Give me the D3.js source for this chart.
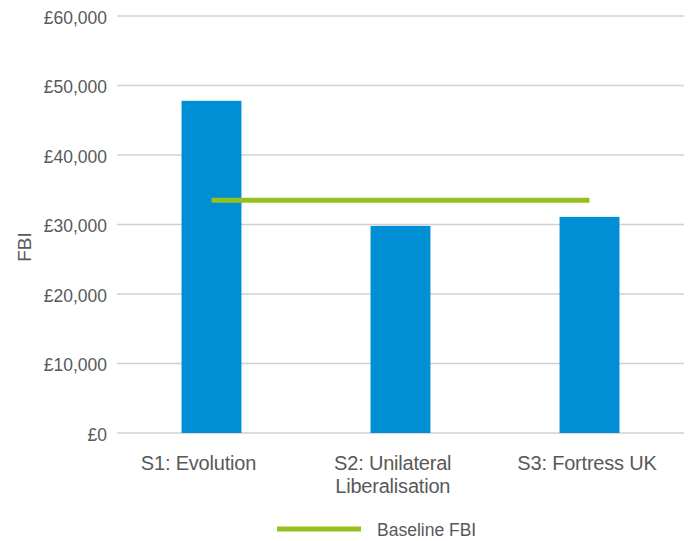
<!DOCTYPE html>
<html>
<head>
<meta charset="utf-8">
<script src="https://cdn.jsdelivr.net/npm/d3@7"></script>
<style>
  html, body { margin: 0; padding: 0; background: #ffffff; }
  svg { display: block; }
  text { font-family: "Liberation Sans", Arial, Helvetica, sans-serif; fill: #595959; }
</style>
</head>
<body>
<svg id="chart" width="688" height="541"></svg>
<script>
// ---- data ----
const categories = ["S1: Evolution", "S2: Unilateral\nLiberalisation", "S3: Fortress UK"];
const fbiValues = [47800, 29800, 31100];
const baselineValues = [33500, 33500, 33500];
const yTicks = [0, 10000, 20000, 30000, 40000, 50000, 60000];
const seriesNames = ["FBI", "Baseline FBI"];
const yAxisTitle = "FBI";

// ---- layout ----
const W = 688, H = 541;
const plot = { left: 117, right: 684, top: 16, bottom: 433 };
const barColor = "#008FD5";
const lineColor = "#95C11F";
const gridColor = "#d0d0d0";

const svg = d3.select("#chart");

const x = d3.scaleBand()
  .domain(categories)
  .range([plot.left, plot.right])
  .paddingInner(0.683)
  .paddingOuter(0.3415);

const y = d3.scaleLinear()
  .domain([0, 60000])
  .range([plot.bottom, plot.top]);

const fmt = v => "£" + d3.format(",")(v);

// gridlines
svg.append("g")
  .selectAll("line")
  .data(yTicks)
  .join("line")
  .attr("x1", plot.left)
  .attr("x2", plot.right)
  .attr("y1", d => y(d))
  .attr("y2", d => y(d))
  .attr("stroke", gridColor)
  .attr("stroke-width", 1.3);

// y tick labels
svg.append("g")
  .selectAll("text")
  .data(yTicks)
  .join("text")
  .attr("x", 107)
  .attr("y", d => y(d) + 7.5)
  .attr("text-anchor", "end")
  .style("font-size", "17.5px")
  .text(d => fmt(d));

// bars
svg.append("g")
  .selectAll("rect")
  .data(fbiValues)
  .join("rect")
  .attr("x", (d, i) => x(categories[i]))
  .attr("width", x.bandwidth())
  .attr("y", d => y(d))
  .attr("height", d => y(0) - y(d))
  .attr("fill", barColor);

// baseline line
const line = d3.line()
  .x((d, i) => x(categories[i]) + x.bandwidth() / 2)
  .y(d => y(d));
svg.append("path")
  .datum(baselineValues)
  .attr("d", line)
  .attr("fill", "none")
  .attr("stroke", lineColor)
  .attr("stroke-width", 5);

// category labels
const labelX = d3.scalePoint().domain(categories).range([198.5, 587]);
const catG = svg.append("g");
categories.forEach((c, i) => {
  const lines = c.split("\n");
  const t = catG.append("text")
    .attr("x", labelX(c))
    .attr("y", 470)
    .attr("text-anchor", "middle")
    .style("font-size", "20px")
    .style("letter-spacing", "-0.2px");
  lines.forEach((ln, j) => {
    t.append("tspan")
      .attr("x", labelX(c))
      .attr("dy", j === 0 ? 0 : 23)
      .text(ln);
  });
});

// y axis title
svg.append("text")
  .attr("transform", "translate(31,247) rotate(-90)")
  .attr("text-anchor", "middle")
  .style("font-size", "19px")
  .text(yAxisTitle);

// legend
const lg = svg.append("g");
lg.append("line")
  .attr("x1", 277).attr("x2", 361)
  .attr("y1", 529).attr("y2", 529)
  .attr("stroke", lineColor)
  .attr("stroke-width", 5);
lg.append("text")
  .attr("x", 377)
  .attr("y", 535.5)
  .style("font-size", "17.5px")
  .text(seriesNames[1]);
</script>
</body>
</html>
